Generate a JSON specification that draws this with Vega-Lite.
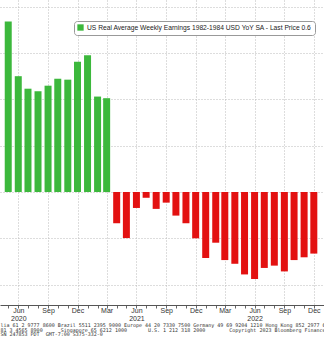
{
  "$schema": "https://vega.github.io/schema/vega-lite/v6.json",
  "width": 324,
  "height": 305,
  "autosize": {"type": "none"},
  "padding": {"left": 0, "top": 0, "right": 0, "bottom": 46},
  "background": "white",
  "config": {
    "view": {"stroke": null},
    "font": "Liberation Sans"
  },
  "data": {
    "values": [
      {"date": "2020-05-15", "value": 7.36},
      {"date": "2020-06-15", "value": 5.0},
      {"date": "2020-07-15", "value": 4.46},
      {"date": "2020-08-15", "value": 4.35},
      {"date": "2020-09-15", "value": 4.59},
      {"date": "2020-10-15", "value": 4.89},
      {"date": "2020-11-15", "value": 4.85},
      {"date": "2020-12-15", "value": 5.62},
      {"date": "2021-01-15", "value": 5.9},
      {"date": "2021-02-15", "value": 4.12},
      {"date": "2021-03-15", "value": 4.05},
      {"date": "2021-04-15", "value": -1.35},
      {"date": "2021-05-15", "value": -1.99},
      {"date": "2021-06-15", "value": -0.69},
      {"date": "2021-07-15", "value": -0.25},
      {"date": "2021-08-15", "value": -0.73},
      {"date": "2021-09-15", "value": -0.46},
      {"date": "2021-10-15", "value": -1.02},
      {"date": "2021-11-15", "value": -1.35},
      {"date": "2021-12-15", "value": -2.0},
      {"date": "2022-01-15", "value": -2.85},
      {"date": "2022-02-15", "value": -2.19},
      {"date": "2022-03-15", "value": -2.94},
      {"date": "2022-04-15", "value": -3.1},
      {"date": "2022-05-15", "value": -3.56},
      {"date": "2022-06-15", "value": -3.76},
      {"date": "2022-07-15", "value": -3.28},
      {"date": "2022-08-15", "value": -3.18},
      {"date": "2022-09-15", "value": -3.43},
      {"date": "2022-10-15", "value": -2.94},
      {"date": "2022-11-15", "value": -2.82},
      {"date": "2022-12-15", "value": -2.66}
    ]
  },
  "transform": [
    {"calculate": "datum.value >= 0 ? 'pos' : 'neg'", "as": "sign"}
  ],
  "mark": {"type": "bar", "width": 7},
  "encoding": {
    "x": {
      "field": "date",
      "type": "temporal",
      "scale": {"domain": [{"year": 2020, "month": 5, "date": 5}, {"year": 2022, "month": 12, "date": 31}], "nice": false},
      "axis": {
        "values": [
          {"year": 2020, "month": 5, "date": 15}, {"year": 2020, "month": 6, "date": 15}, {"year": 2020, "month": 7, "date": 15}, {"year": 2020, "month": 8, "date": 15},
          {"year": 2020, "month": 9, "date": 15}, {"year": 2020, "month": 10, "date": 15}, {"year": 2020, "month": 11, "date": 15}, {"year": 2020, "month": 12, "date": 15},
          {"year": 2021, "month": 1, "date": 15}, {"year": 2021, "month": 2, "date": 15}, {"year": 2021, "month": 3, "date": 15}, {"year": 2021, "month": 4, "date": 15},
          {"year": 2021, "month": 5, "date": 15}, {"year": 2021, "month": 6, "date": 15}, {"year": 2021, "month": 7, "date": 15}, {"year": 2021, "month": 8, "date": 15},
          {"year": 2021, "month": 9, "date": 15}, {"year": 2021, "month": 10, "date": 15}, {"year": 2021, "month": 11, "date": 15}, {"year": 2021, "month": 12, "date": 15},
          {"year": 2022, "month": 1, "date": 15}, {"year": 2022, "month": 2, "date": 15}, {"year": 2022, "month": 3, "date": 15}, {"year": 2022, "month": 4, "date": 15},
          {"year": 2022, "month": 5, "date": 15}, {"year": 2022, "month": 6, "date": 15}, {"year": 2022, "month": 7, "date": 15}, {"year": 2022, "month": 8, "date": 15},
          {"year": 2022, "month": 9, "date": 15}, {"year": 2022, "month": 10, "date": 15}, {"year": 2022, "month": 11, "date": 15}, {"year": 2022, "month": 12, "date": 15}
        ],
        "labelExpr": "month(datum.value) % 3 == 2 ? (month(datum.value) == 5 ? [timeFormat(datum.value, '%b'), timeFormat(datum.value, '%Y')] : timeFormat(datum.value, '%b')) : ''",
        "labelFont": "Liberation Sans",
        "labelFontSize": 7,
        "labelColor": "#333",
        "labelLineHeight": 8,
        "labelPadding": -1.5,
        "labelOverlap": false,
        "labelFlush": false,
        "tickSize": 3,
        "tickColor": "#666",
        "domainColor": "#555",
        "grid": true,
        "gridColor": "#bbb",
        "gridDash": [1, 2],
        "gridOpacity": {"condition": {"test": "month(datum.value) % 3 == 2", "value": 1}, "value": 0},
        "title": [
          "lia 61 2 9777 8600 Brazil 5511 2395 9000 Europe 44 20 7330 7500 Germany 49 69 9204 1210 Hong Kong 852 2977 6000",
          "81 3 4565 8900\u00a0\u00a0\u00a0\u00a0\u00a0\u00a0Singapore 65 6212 1000\u00a0\u00a0\u00a0\u00a0\u00a0\u00a0\u00a0U.S. 1 212 318 2000\u00a0\u00a0\u00a0\u00a0\u00a0\u00a0\u00a0\u00a0Copyright 2023 Bloomberg Finance L.P.",
          "\u00a0\u00a0\u00a0\u00a0\u00a0\u00a0\u00a0\u00a0\u00a0\u00a0\u00a0\u00a0\u00a0\u00a0\u00a0\u00a0\u00a0\u00a0\u00a0\u00a0\u00a0\u00a0\u00a0\u00a0\u00a0\u00a0\u00a0\u00a0\u00a0\u00a0\u00a0\u00a0\u00a0\u00a0\u00a0\u00a0\u00a0\u00a0\u00a0\u00a0\u00a0\u00a0\u00a0\u00a0\u00a0\u00a0\u00a0\u00a0\u00a0\u00a0\u00a0\u00a0\u00a0\u00a0\u00a0\u00a0\u00a0\u00a0\u00a0\u00a0\u00a0\u00a0\u00a0\u00a0\u00a0\u00a0\u00a0\u00a0\u00a0\u00a0\u00a0\u00a0\u00a0\u00a0\u00a0\u00a0SN 247853 PDT\u00a0\u00a0GMT-7:00 S375-332-0"
        ],
        "titleFont": "DejaVu Sans Mono",
        "titleFontSize": 5,
        "titleFontWeight": "normal",
        "titleColor": "#333",
        "titleLineHeight": 4.7,
        "titleX": 0,
        "titleY": 17.5,
        "titleAlign": "left",
        "titleBaseline": "top",
        "titleAngle": 0
      }
    },
    "y": {
      "field": "value",
      "type": "quantitative",
      "scale": {"domain": [-4.88, 8.29], "nice": false, "zero": false},
      "axis": {
        "labels": false,
        "ticks": false,
        "domain": false,
        "title": null,
        "values": [-4, -2, 0, 2, 4, 6, 8],
        "gridColor": "#bbb",
        "gridDash": [1, 2]
      }
    },
    "color": {
      "field": "sign",
      "type": "nominal",
      "scale": {"domain": ["pos", "neg"], "range": ["#3cb83c", "#e31111"]},
      "legend": {
        "values": ["pos"],
        "labelExpr": "'US Real Average Weekly Earnings 1982-1984 USD YoY SA - Last Price 0.6'",
        "title": null,
        "orient": "none",
        "legendX": 74,
        "legendY": 21,
        "fillColor": "white",
        "strokeColor": "#999",
        "cornerRadius": 3,
        "padding": 3,
        "symbolType": "square",
        "symbolSize": 40,
        "symbolStrokeWidth": 0,
        "labelFont": "Liberation Sans",
        "labelFontSize": 6.7,
        "labelColor": "#222",
        "labelOffset": 3,
        "labelLimit": 400
      }
    }
  }
}
